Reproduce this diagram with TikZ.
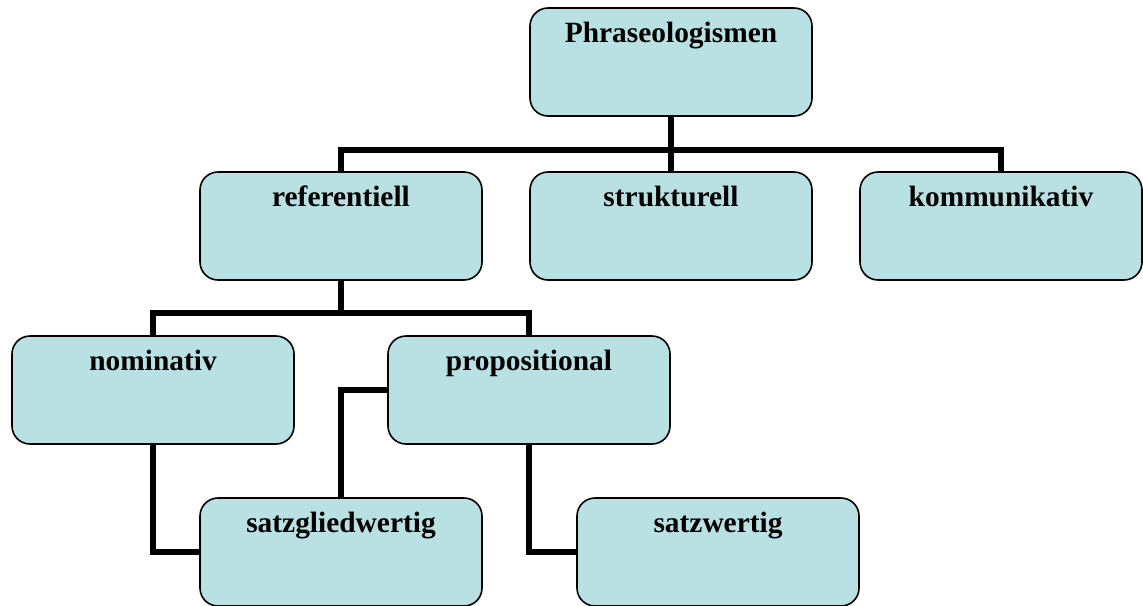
\documentclass[tikz,border=0pt]{standalone}
\usepackage{fontspec}
\setmainfont{Liberation Serif}
\usetikzlibrary{positioning,calc}
\definecolor{boxfill}{RGB}{185,224,227}

\begin{document}
\begin{tikzpicture}[x=0.5pt,y=-0.5pt,
    klasse/.style={draw=black,line width=0.8pt,fill=boxfill,rounded corners=9pt,
      minimum width=141pt,inner xsep=0pt,inner ysep=0pt,
      text height=17pt,text depth=37pt,
      font=\fontsize{14.7}{17}\selectfont\bfseries},
    ast/.style={line width=2.6pt,line join=miter}]
    \useasboundingbox (0,0) rectangle (1143,605);
    \foreach \name/\x/\y/\lbl in {
      phr/671/62/Phraseologismen,
      ref/341/226/referentiell,
      str/671/226/strukturell,
      kom/1001/226/kommunikativ,
      nom/153/390/nominativ,
      prop/529/390/propositional,
      sg/341/552/satzgliedwertig,
      sw/718/552/satzwertig}{
      \node[klasse] (\name) at (\x,\y) {\lbl};
    }
    \coordinate (bus1) at (671,150);
    \coordinate (bus2) at (341,313);
    \draw[ast] (phr.south) -- (str.north);
    \draw[ast] (ref.north) |- (bus1) -| (kom.north);
    \draw[ast] (ref.south) -- (bus2);
    \draw[ast] (nom.north) |- (bus2) -| (prop.north);
    \draw[ast] (nom.south) |- (sg.west);
    \draw[ast] (prop.west) -| (sg.north);
    \draw[ast] (prop.south) |- (sw.west);
  \end{tikzpicture}
\end{document}
